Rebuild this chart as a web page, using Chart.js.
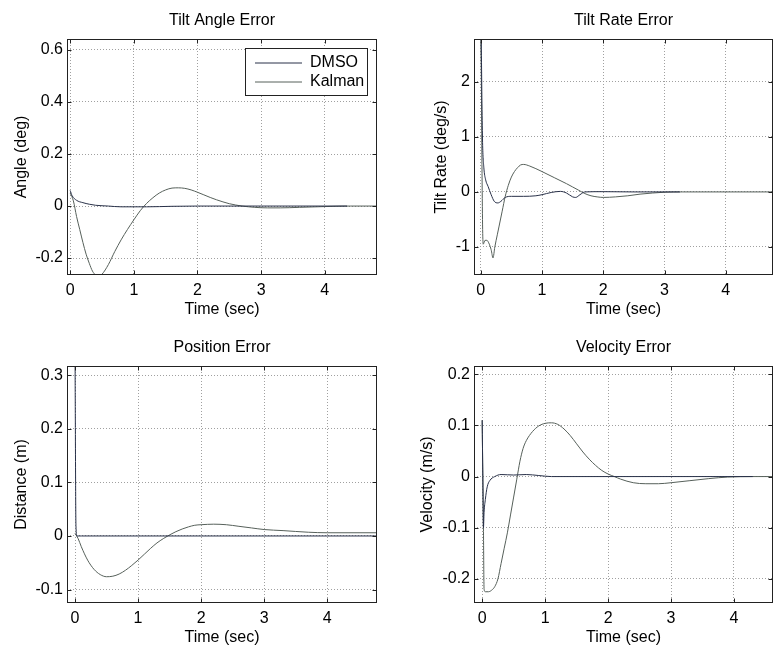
<!DOCTYPE html>
<html>
<head>
<meta charset="utf-8">
<title>Estimator Errors</title>
<script src="https://cdn.jsdelivr.net/npm/chart.js"></script>
<style>
  body { margin: 0; background: #fff; overflow: hidden; width: 773px; height: 650px; position: relative; }
  canvas { position: absolute; }
</style>
</head>
<body>
<canvas id="angleChart" style="left:0px; top:0px;" width="390" height="325"></canvas>
<canvas id="rateChart" style="left:400px; top:0px;" width="373" height="325"></canvas>
<canvas id="posChart" style="left:0px; top:327px;" width="390" height="323"></canvas>
<canvas id="velChart" style="left:400px; top:327px;" width="373" height="323"></canvas>

<script>
// Data (time in seconds)

// Tilt Angle Error (deg)
let angleTimeDmso = [0, 0.03, 0.1, 0.2, 0.3, 0.4, 0.6, 0.8, 1.2, 1.6, 2.0, 3.0, 4.35];
let angleDmso = [0.06, 0.04, 0.022, 0.013, 0.007, 0.003, 0, -0.003, -0.003, -0.001, 0, 0, 0];
let angleTimeKalman = [0, 0.05, 0.1, 0.15, 0.2, 0.25, 0.3, 0.35, 0.4, 0.45, 0.5, 0.6, 0.7, 0.8, 0.9, 1.0, 1.1, 1.2, 1.3, 1.4, 1.5, 1.6, 1.7, 1.8, 1.9, 2.0, 2.1, 2.2, 2.3, 2.4, 2.5, 2.6, 2.7, 2.9, 3.1, 3.3, 3.6, 4.0, 4.4, 4.9];
let angleKalman = [0.05, 0.02, -0.04, -0.09, -0.14, -0.185, -0.22, -0.25, -0.265, -0.27, -0.262, -0.225, -0.175, -0.13, -0.09, -0.053, -0.018, 0.01, 0.032, 0.05, 0.062, 0.069, 0.07, 0.068, 0.062, 0.053, 0.043, 0.033, 0.024, 0.016, 0.009, 0.004, 0, -0.005, -0.007, -0.007, -0.005, -0.002, 0, 0];

// Tilt Rate Error (deg/s)
let rateTimeDmso = [0, 0.01, 0.02, 0.03, 0.05, 0.08, 0.12, 0.17, 0.22, 0.28, 0.33, 0.4, 0.5, 0.7, 0.9, 1.0, 1.15, 1.3, 1.4, 1.5, 1.55, 1.62, 1.7, 2.0, 2.5, 3.25];
let rateDmso = [3.5, 2.6, 1.6, 0.9, 0.45, 0.22, 0.1, -0.05, -0.17, -0.2, -0.17, -0.1, -0.08, -0.08, -0.07, -0.05, -0.01, 0.01, -0.02, -0.09, -0.1, -0.05, 0, 0.005, 0, 0];
let rateTimeKalman = [0, 0.01, 0.02, 0.03, 0.04, 0.07, 0.1, 0.14, 0.17, 0.2, 0.23, 0.27, 0.3, 0.35, 0.4, 0.45, 0.5, 0.55, 0.6, 0.65, 0.7, 0.8, 1.0, 1.2, 1.4, 1.5, 1.6, 1.7, 1.8, 1.9, 2.0, 2.2, 2.4, 2.6, 2.8, 3.0, 3.3, 4.9];
let rateKalman = [2.9, 2.0, 0.5, -0.6, -0.95, -0.88, -0.88, -0.95, -1.05, -1.2, -1.0, -0.78, -0.62, -0.35, -0.08, 0.12, 0.27, 0.37, 0.44, 0.49, 0.5, 0.47, 0.37, 0.26, 0.15, 0.09, 0.03, -0.03, -0.07, -0.09, -0.1, -0.09, -0.07, -0.04, -0.02, -0.005, 0, 0];

// Position Error (m)
let posTimeDmso = [0, 0.015, 0.03, 0.1, 1, 2, 3, 4, 4.9];
let posDmso = [0.35, 0.02, 0, 0, 0, 0, 0, 0, 0];
let posTimeKalman = [0, 0.05, 0.1, 0.2, 0.3, 0.4, 0.5, 0.6, 0.7, 0.8, 0.9, 1.0, 1.1, 1.2, 1.3, 1.4, 1.5, 1.6, 1.7, 1.8, 1.9, 2.0, 2.2, 2.4, 2.6, 2.8, 3.0, 3.3, 3.7, 4.0, 4.9];
let posKalman = [0.005, -0.005, -0.02, -0.045, -0.062, -0.072, -0.076, -0.075, -0.071, -0.064, -0.055, -0.045, -0.034, -0.023, -0.013, -0.005, 0.002, 0.008, 0.013, 0.017, 0.02, 0.021, 0.022, 0.021, 0.018, 0.015, 0.012, 0.01, 0.007, 0.006, 0.006];

// Velocity Error (m/s)
let velTimeDmso = [0, 0.01, 0.02, 0.03, 0.05, 0.08, 0.12, 0.2, 0.3, 0.5, 0.7, 0.9, 1.1, 2, 3, 4.3];
let velDmso = [0.11, 0, -0.1, -0.07, -0.045, -0.02, -0.008, 0, 0.004, 0.003, 0.004, 0.002, 0, 0, 0, 0];
let velTimeKalman = [0, 0.02, 0.03, 0.05, 0.1, 0.15, 0.2, 0.25, 0.3, 0.35, 0.4, 0.45, 0.5, 0.55, 0.6, 0.65, 0.7, 0.8, 0.9, 1.0, 1.1, 1.2, 1.3, 1.4, 1.5, 1.6, 1.7, 1.8, 1.9, 2.0, 2.1, 2.2, 2.4, 2.6, 2.8, 3.0, 3.3, 3.6, 3.9, 4.3, 4.9];
let velKalman = [0.11, -0.1, -0.22, -0.225, -0.225, -0.222, -0.215, -0.2, -0.17, -0.14, -0.11, -0.075, -0.04, -0.005, 0.03, 0.055, 0.07, 0.088, 0.099, 0.104, 0.105, 0.102, 0.093, 0.08, 0.064, 0.048, 0.034, 0.022, 0.012, 0.005, 0, -0.005, -0.012, -0.014, -0.014, -0.012, -0.008, -0.004, -0.001, 0, 0];

// Tick labels
let timeTicks = [0, 1, 2, 3, 4];
let angleTicks = [-0.2, 0, 0.2, 0.4, 0.6];
let rateTicks = [-1, 0, 1, 2];
let posTicks = [-0.1, 0, 0.1, 0.2, 0.3];
let velTicks = [-0.2, -0.1, 0, 0.1, 0.2];

let seriesNames = ['DMSO', 'Kalman'];
let seriesColors = ['#283048', '#56605a'];


Chart.defaults.font.family = '"Liberation Sans", Arial, sans-serif';
Chart.defaults.font.size = 16;
Chart.defaults.color = '#000';

function toPoints(times, values) {
	return times.map((t, i) => ({x: t, y: values[i]}));
}

// box round the plot area plus little inward tick marks, like the matlab axes
const axesFrame = {
	id: 'axesFrame',
	afterDraw(chart) {
		const ctx = chart.ctx;
		const a = chart.chartArea;
		const l = Math.round(a.left) + 0.5, r = Math.round(a.right) - 0.5;
		const t = Math.round(a.top) + 0.5, b = Math.round(a.bottom) - 0.5;
		ctx.save();
		ctx.strokeStyle = '#222';
		ctx.lineWidth = 1;
		ctx.beginPath();
		chart.scales.x.ticks.forEach(tk => {
			const px = Math.round(chart.scales.x.getPixelForValue(tk.value)) + 0.5;
			ctx.moveTo(px, b); ctx.lineTo(px, b - 4);
			ctx.moveTo(px, t); ctx.lineTo(px, t + 4);
		});
		chart.scales.y.ticks.forEach(tk => {
			const py = Math.round(chart.scales.y.getPixelForValue(tk.value)) + 0.5;
			ctx.moveTo(l, py); ctx.lineTo(l + 4, py);
			ctx.moveTo(r, py); ctx.lineTo(r - 4, py);
		});
		ctx.stroke();
		ctx.strokeRect(l, t, r - l, b - t);
		ctx.restore();
	}
};

// move the legend to the top right corner of the plot and give it a white box
const legendBox = {
	id: 'legendBox',
	afterLayout(chart) {
		const a = chart.chartArea;
		const legend = chart.legend;
		const boxRight = a.right - 10, boxTop = a.top + 9;
		legend.left = boxRight - 122 + 7;
		legend.top = boxTop + 4;
		legend.right = boxRight;
		legend.bottom = boxTop + 47;
		legend.width = legend.right - legend.left;
		legend.height = legend.bottom - legend.top;
	},
	afterDraw(chart) {
		const ctx = chart.ctx;
		const a = chart.chartArea;
		const x = Math.round(a.right - 10 - 122) + 0.5, y = Math.round(a.top + 9) + 0.5;
		ctx.save();
		ctx.fillStyle = '#fff';
		ctx.fillRect(x, y, 122, 47);
		ctx.strokeStyle = '#222';
		ctx.lineWidth = 1;
		ctx.strokeRect(x, y, 122, 47);
		ctx.restore();
		chart.legend.draw();
	}
};

function errorChart(canvasId, cfg) {
	let datasets = [
		{label: seriesNames[0], data: toPoints(cfg.dmsoTime, cfg.dmso), borderColor: seriesColors[0], backgroundColor: seriesColors[0]},
		{label: seriesNames[1], data: toPoints(cfg.kalmanTime, cfg.kalman), borderColor: seriesColors[1], backgroundColor: seriesColors[1]}
	];

	let gridOpts = {color: '#a0a0a0', lineWidth: 1, drawTicks: false};
	let borderOpts = {display: false, dash: [1, 2]};

	return new Chart(document.getElementById(canvasId), {
		type: 'line',
		data: {datasets: datasets},
		plugins: cfg.legend ? [axesFrame, legendBox] : [axesFrame],
		options: {
			responsive: false,
			animation: false,
			layout: {padding: {left: 0, right: cfg.padRight, top: 0, bottom: 0}},
			elements: {
				point: {radius: 0},
				line: {borderWidth: 1, cubicInterpolationMode: 'monotone'}
			},
			plugins: {
				title: {
					display: true,
					text: cfg.title,
					fullSize: false,
					font: {size: 16, weight: 'normal'},
					padding: {top: 11, bottom: 8.8}
				},
				legend: cfg.legend ? {
					display: true,
					position: 'chartArea',
					align: 'start',
					labels: {usePointStyle: true, pointStyle: 'line', pointStyleWidth: 47, padding: 3, font: {size: 16}}
				} : {display: false},
				tooltip: {enabled: false}
			},
			scales: {
				x: {
					type: 'linear',
					min: cfg.xMin,
					max: cfg.xMax,
					afterBuildTicks: scale => { scale.ticks = timeTicks.map(v => ({value: v})); },
					afterFit: scale => { scale.height = cfg.xHeight; },
					grid: gridOpts,
					border: borderOpts,
					ticks: {padding: 6, maxRotation: 0},
					title: {display: true, text: 'Time (sec)', padding: {top: 0, bottom: cfg.xTitlePad}}
				},
				y: {
					type: 'linear',
					min: cfg.yMin,
					max: cfg.yMax,
					afterBuildTicks: scale => { scale.ticks = cfg.yTicks.map(v => ({value: v})); },
					afterFit: scale => { scale.width = cfg.yWidth; },
					grid: gridOpts,
					border: borderOpts,
					ticks: {padding: 4, callback: v => String(v)},
					title: {display: true, text: cfg.yLabel, padding: {top: cfg.yTitlePad, bottom: 0}}
				}
			}
		}
	});
}

errorChart('angleChart', {
	title: 'Tilt Angle Error', yLabel: 'Angle (deg)', legend: true,
	dmsoTime: angleTimeDmso, dmso: angleDmso, kalmanTime: angleTimeKalman, kalman: angleKalman,
	xMin: -0.05, xMax: 4.82, yMin: -0.265, yMax: 0.642, yTicks: angleTicks,
	padRight: 13, yWidth: 67, yTitlePad: 12.4, xHeight: 50, xTitlePad: 5.4
});

errorChart('rateChart', {
	title: 'Tilt Rate Error', yLabel: 'Tilt Rate (deg/s)', legend: false,
	dmsoTime: rateTimeDmso, dmso: rateDmso, kalmanTime: rateTimeKalman, kalman: rateKalman,
	xMin: -0.11, xMax: 4.77, yMin: -1.51, yMax: 2.78, yTicks: rateTicks,
	padRight: 0, yWidth: 74, yTitlePad: 32.4, xHeight: 50, xTitlePad: 5.4
});

errorChart('posChart', {
	title: 'Position Error', yLabel: 'Distance (m)', legend: false,
	dmsoTime: posTimeDmso, dmso: posDmso, kalmanTime: posTimeKalman, kalman: posKalman,
	xMin: -0.127, xMax: 4.79, yMin: -0.125, yMax: 0.317, yTicks: posTicks,
	padRight: 13, yWidth: 67, yTitlePad: 12.4, xHeight: 47, xTitlePad: 2.4
});

errorChart('velChart', {
	title: 'Velocity Error', yLabel: 'Velocity (m/s)', legend: false,
	dmsoTime: velTimeDmso, dmso: velDmso, kalmanTime: velTimeKalman, kalman: velKalman,
	xMin: -0.13, xMax: 4.62, yMin: -0.247, yMax: 0.216, yTicks: velTicks,
	padRight: 0, yWidth: 74, yTitlePad: 18.4, xHeight: 47, xTitlePad: 2.4
});
</script>
</body>
</html>
